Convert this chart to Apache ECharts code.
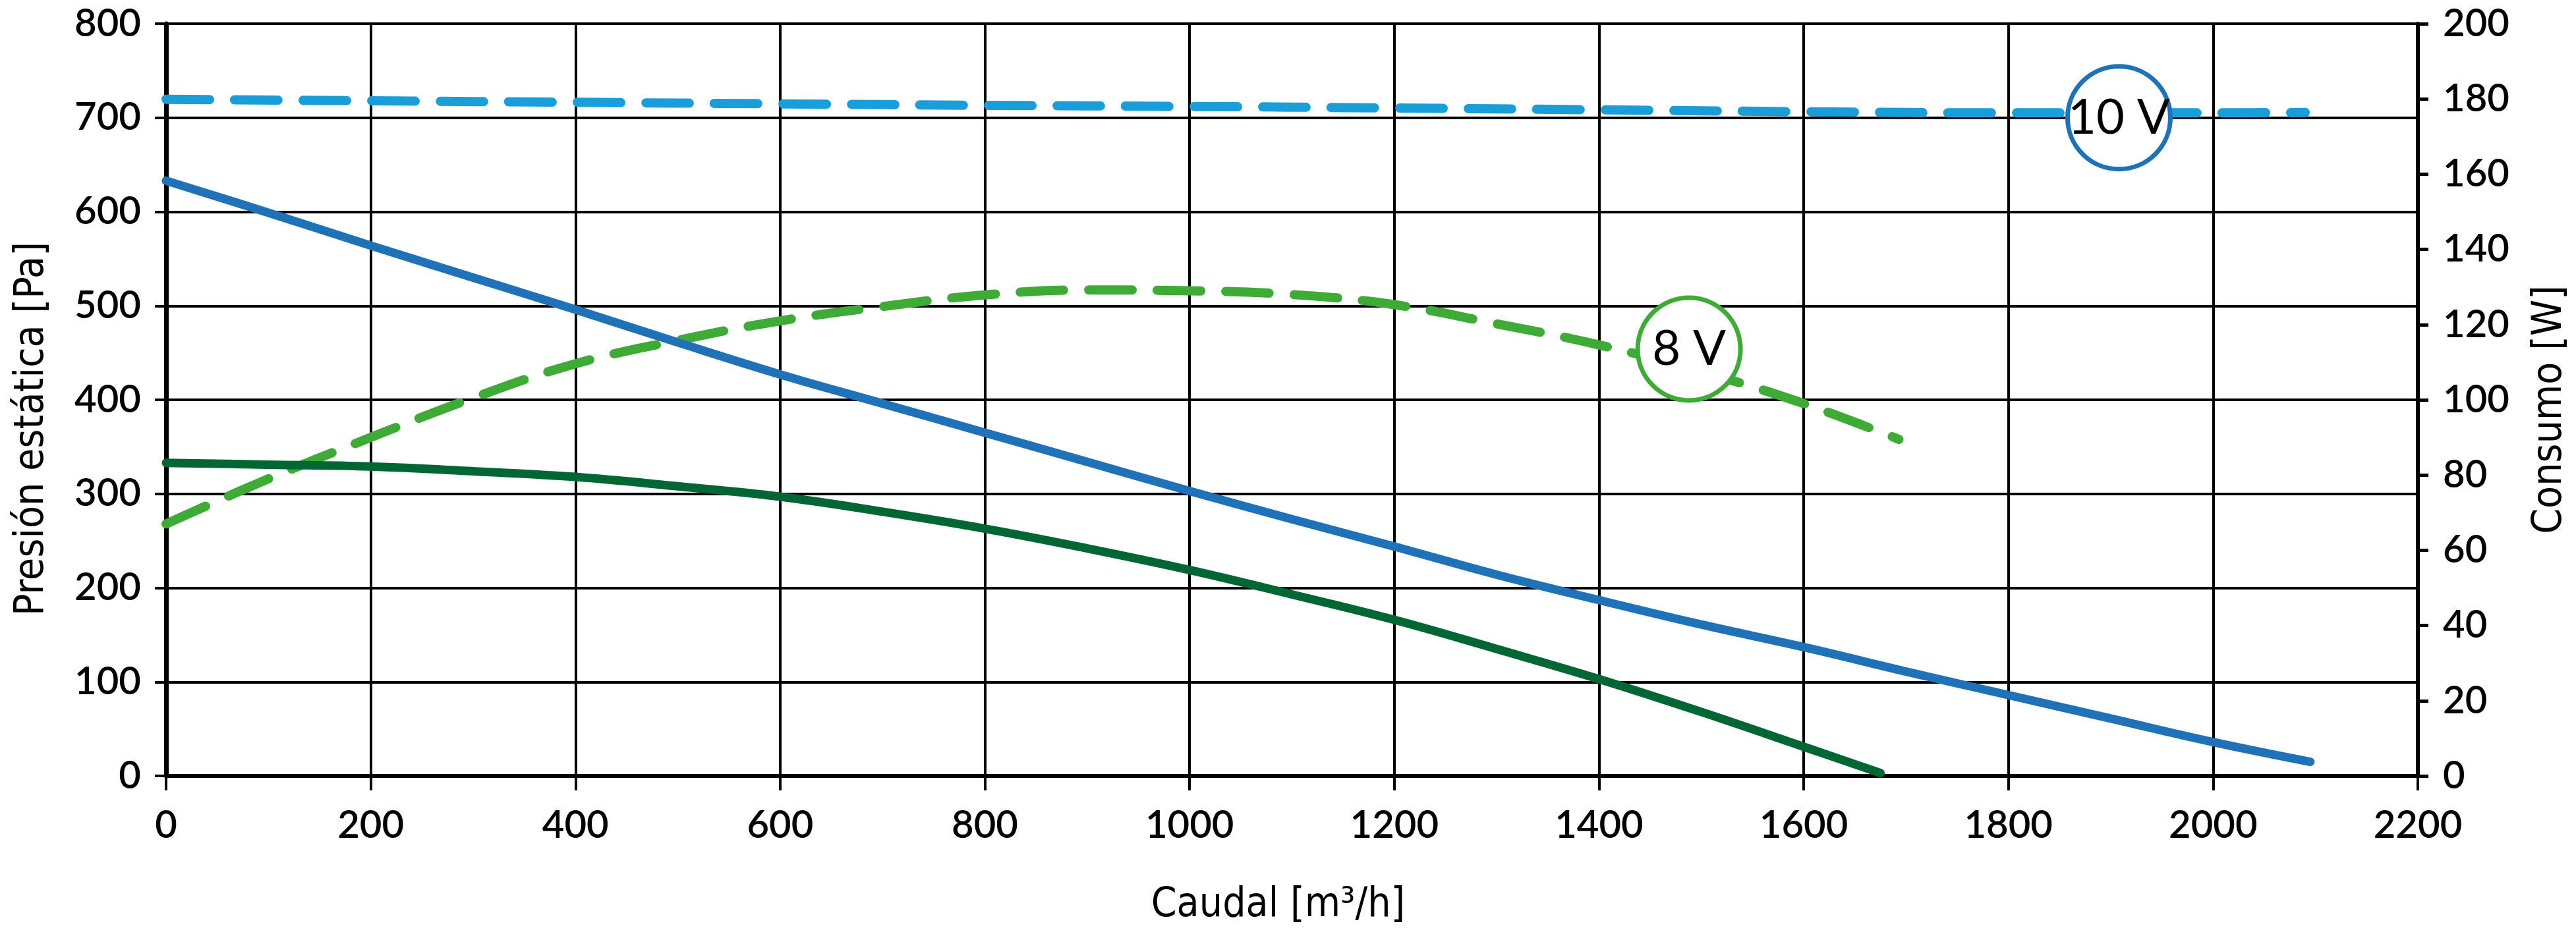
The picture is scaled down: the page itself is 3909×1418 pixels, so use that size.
<!DOCTYPE html>
<html>
<head>
<meta charset="utf-8">
<script src="https://cdn.jsdelivr.net/npm/echarts@6/dist/echarts.min.js"></script>
<style>html,body{margin:0;padding:0;background:#fff}#c{width:3909px;height:1418px}</style>
</head>
<body>
<div id="c"></div>
<script>
// ---- data ----
const xTicks = { min: 0, max: 2200, step: 200 };
const leftTicks = { min: 0, max: 800, step: 100 };
const rightTicks = { min: 0, max: 200, step: 20 };

// 10 V – static pressure [Pa]
const pressure10Flow = [0,100,200,300,400,500,600,700,800,900,1000,1100,1200,1300,1400,1500,1600,1700,1800,1900,2000,2095];
const pressure10     = [633,599,564,530,496,461,427,396,365,334,303,273,244,214,187,161,137,111,86,61,36,15];

// 8 V – static pressure [Pa]
const pressure8Flow = [0,100,200,300,400,500,600,700,800,900,1000,1100,1200,1300,1400,1500,1600,1675];
const pressure8     = [333,331,329,324,318,308,297,281,263,242,219,193,166,135,103,68,31,3];

// 10 V – power consumption [W]
const power10Flow = [0,200,400,600,800,1000,1200,1400,1600,1800,2000,2090];
const power10     = [179.9,179.5,179.1,178.7,178.3,178.0,177.6,177.1,176.6,176.3,176.3,176.4];

// 8 V – power consumption [W]
const power8Flow = [0,100,200,300,400,500,600,700,800,900,1000,1100,1200,1300,1400,1500,1600,1693];
const power8     = [67,79,90,100.5,109.6,115.8,121,124.8,127.9,129.2,129,128,125.3,120.2,114.6,107.5,99,89.5];

// curve labels (flow, pressure)
const labelText     = ['10 V', '8 V'];
const labelFlow     = [1908, 1488];
const labelPressure = [700, 454];

// ---- styling ----
const C_BLUE = '#1f71b8', C_LBLUE = '#1a9ed9', C_GREEN = '#3dab35', C_DGREEN = '#006633';
const TICK_FONT = 'Lato, "DejaVu Sans", sans-serif';
const NAME_FONT = '"DejaVu Sans Condensed", "Liberation Sans Narrow", sans-serif';

const zip = (xs, ys) => xs.map((x, i) => [x, ys[i]]);
const plain = v => String(v);

const chart = echarts.init(document.getElementById('c'), null, { renderer: 'canvas' });

const lineSeries = (name, xs, ys, color, yIdx, dashed, width) => ({
  name, type: 'line', yAxisIndex: yIdx, data: zip(xs, ys),
  smooth: 0.4, showSymbol: false, symbol: 'none', z: 3,
  lineStyle: Object.assign({ color, width, cap: 'round', join: 'round' },
    dashed ? { type: [66, 38] } : { type: 'solid' })
});

const tickLabel = (margin) => ({
  fontFamily: TICK_FONT, fontSize: 58, fontWeight: 600, color: '#000', margin, formatter: plain
});
const nameStyle = (padding) => ({
  fontFamily: NAME_FONT, fontSize: 62, fontWeight: 'normal', color: '#000', padding
});

const option = {
  animation: false,
  backgroundColor: '#fff',
  grid: { left: 252, right: 240, top: 36, bottom: 240, containLabel: false },
  xAxis: {
    type: 'value', min: xTicks.min, max: xTicks.max, interval: xTicks.step,
    name: 'Caudal [m³/h]', nameLocation: 'middle', nameGap: 166,
    nameTextStyle: nameStyle([0, 42, 0, 0]),
    axisLine: { show: true, onZero: false, lineStyle: { color: '#000', width: 6 } },
    axisTick: { show: true, inside: false, length: 22, lineStyle: { color: '#000', width: 4 } },
    axisLabel: tickLabel(46),
    splitLine: { show: true, lineStyle: { color: '#000', width: 4 } }
  },
  yAxis: [
    {
      type: 'value', position: 'left', min: leftTicks.min, max: leftTicks.max, interval: leftTicks.step,
      name: 'Presión estática [Pa]', nameLocation: 'middle', nameGap: 172, nameRotate: 90,
      nameTextStyle: nameStyle([0, 88, 0, 0]),
      axisLine: { show: true, onZero: false, lineStyle: { color: '#000', width: 7 } },
      axisTick: { show: true, inside: false, length: 17, lineStyle: { color: '#000', width: 4 } },
      axisLabel: tickLabel(38),
      splitLine: { show: true, lineStyle: { color: '#000', width: 4 } }
    },
    {
      type: 'value', position: 'right', min: rightTicks.min, max: rightTicks.max, interval: rightTicks.step,
      name: 'Consumo [W]', nameLocation: 'middle', nameGap: 170, nameRotate: 90,
      nameTextStyle: nameStyle([0, 30, 0, 0]),
      axisLine: { show: true, onZero: false, lineStyle: { color: '#000', width: 6 } },
      axisTick: { show: true, inside: false, length: 16, lineStyle: { color: '#000', width: 5 } },
      axisLabel: tickLabel(38),
      splitLine: { show: false }
    }
  ],
  series: [
    lineSeries('10 V consumo', power10Flow, power10, C_LBLUE, 1, true, 14),
    lineSeries('8 V consumo', power8Flow, power8, C_GREEN, 1, true, 14),
    lineSeries('10 V presión', pressure10Flow, pressure10, C_BLUE, 0, false, 13),
    lineSeries('8 V presión', pressure8Flow, pressure8, C_DGREEN, 0, false, 13),
    {
      name: 'etiquetas', type: 'scatter', yAxisIndex: 0, z: 10,
      symbol: 'circle', symbolSize: 156,
      data: labelText.map((t, i) => ({
        value: [labelFlow[i], labelPressure[i]],
        name: t,
        itemStyle: { color: '#fff', borderColor: i === 0 ? C_BLUE : C_GREEN, borderWidth: 7, opacity: 1 }
      })),
      label: {
        show: true, position: 'inside', formatter: p => p.name,
        fontFamily: 'Lato, "DejaVu Sans", sans-serif', fontSize: 74, color: '#000'
      },
      emphasis: { disabled: true }
    }
  ]
};
chart.setOption(option);
</script>
</body>
</html>
